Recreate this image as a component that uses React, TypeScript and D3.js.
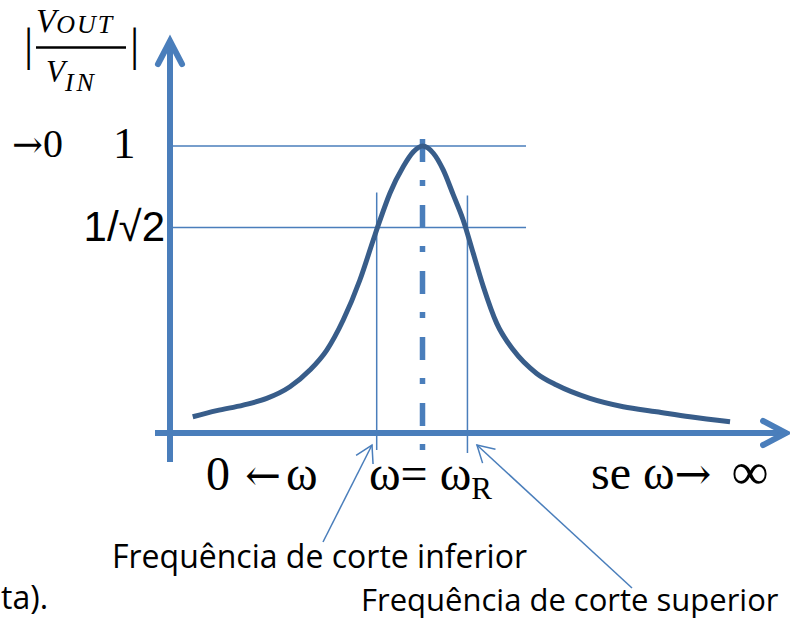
import React from "react";
import * as d3 from "d3";

// Normalised frequency (ω / ω_R) and magnitude |Vout/Vin| of the band-pass response
const OMEGA = [
  0.09, 0.185, 0.29, 0.383, 0.475, 0.554, 0.621, 0.686, 0.752, 0.805, 0.832, 0.871, 0.924,
  0.964, 1.0, 1.043, 1.082, 1.122, 1.161, 1.201, 1.241, 1.294, 1.36, 1.452, 1.531, 1.663,
  1.795, 1.927, 2.059, 2.218,
];
const GAIN = [
  0.026, 0.048, 0.068, 0.092, 0.134, 0.194, 0.266, 0.374, 0.518, 0.662, 0.734, 0.83, 0.926,
  0.979, 1.0, 0.974, 0.914, 0.824, 0.734, 0.614, 0.494, 0.362, 0.266, 0.182, 0.14, 0.092,
  0.062, 0.044, 0.026, 0.008,
];

// Reference levels on the magnitude axis
const LEVEL_VALUES = [1, Math.SQRT1_2];
// Resonance and the two cut-off frequencies
const RESONANCE = 1;
const CUTOFFS = [0.8186, 1.178];
const GUIDE_END = 1.41;
const AXIS_END = 2.44;

const AXIS_BLUE = "#4a7ebb";
const CURVE_BLUE = "#385d8a";
const SERIF = "'Liberation Serif', 'Times New Roman', serif";
const ARROWS = "'DejaVu Serif', serif";
const SANS = "'Open Sans', 'Noto Sans', sans-serif";

function chevron(tipX: number, tipY: number, towardX: number, towardY: number, len: number, half: number) {
  const a = Math.atan2(towardY - tipY, towardX - tipX);
  const p1 = [tipX + len * Math.cos(a - half), tipY + len * Math.sin(a - half)];
  const p2 = [tipX + len * Math.cos(a + half), tipY + len * Math.sin(a + half)];
  return `M${p1[0]},${p1[1]}L${tipX},${tipY}L${p2[0]},${p2[1]}`;
}

export default function App() {
  const width = 790;
  const height = 619;

  const x = d3.scaleLinear().domain([0, 1]).range([170, 422.5]);
  const y = d3.scaleLinear().domain([0, 1]).range([424, 146]);
  const axisY = 433;
  const x0 = x(0);

  const points: [number, number][] = OMEGA.map((w, i) => [w, GAIN[i]]);
  const line = d3
    .line<[number, number]>()
    .x((d) => x(d[0]))
    .y((d) => y(d[1]))
    .curve(d3.curveMonotoneX);

  const [wl, wh] = CUTOFFS;
  const halfPower = y(Math.SQRT1_2);

  // annotation arrows for the cut-off frequencies
  const lowTip = [x(wl) - 4.7, axisY + 12];
  const lowFrom = [323, 542];
  const highTip = [x(wh) + 9.5, axisY + 12];
  const highFrom = [632, 588];
  const head = 19;
  const half = Math.PI / 6;

  return (
    <svg
      width={width}
      height={height}
      style={{ position: "absolute", left: 0, top: 0, display: "block", background: "#fff" }}
    >
      {/* |Vout / Vin| */}
      <g fill="#000" fontFamily={SERIF}>
        <text x={24} y={60} fontSize={46}>|</text>
        <text x={130} y={60} fontSize={46}>|</text>
        <text x={36} y={32} fontSize={33} fontStyle="italic">
          V<tspan fontSize={26} dy={1} letterSpacing={2}>OUT</tspan>
        </text>
        <line x1={36} x2={126} y1={47.5} y2={47.5} stroke="#000" strokeWidth={2.7} />
        <text x={46} y={82} fontSize={31} fontStyle="italic">
          V<tspan fontSize={26} dy={9} letterSpacing={3}>IN</tspan>
        </text>
      </g>

      {/* level guides */}
      {LEVEL_VALUES.map((v, i) => (
        <line
          key={`lvl-${i}`}
          x1={x0}
          x2={x(GUIDE_END)}
          y1={y(v)}
          y2={y(v)}
          stroke={AXIS_BLUE}
          strokeWidth={1.5}
        />
      ))}

      {/* level labels */}
      <text x={12} y={y(1) + 11} fontFamily={SERIF} fontSize={40} fill="#000">
        <tspan fontFamily={ARROWS} fontSize={37}>→</tspan>0
      </text>
      <text x={113} y={y(1) + 12} fontFamily={SERIF} fontSize={45} fill="#000">1</text>
      <text
        x={165}
        y={halfPower + 14}
        textAnchor="end"
        fontFamily="'Liberation Sans', Arial, sans-serif"
        fontSize={42}
        fill="#000"
      >
        1/√2
      </text>

      {/* cut-off markers */}
      <line x1={x(wl)} x2={x(wl)} y1={halfPower - 35} y2={axisY + 17} stroke={AXIS_BLUE} strokeWidth={1.5} />
      <line x1={x(wh)} x2={x(wh)} y1={halfPower - 32} y2={axisY + 20} stroke={AXIS_BLUE} strokeWidth={1.5} />

      {/* resonance marker */}
      <line
        x1={x(RESONANCE)}
        x2={x(RESONANCE)}
        y1={y(1) - 7}
        y2={axisY + 19}
        stroke={AXIS_BLUE}
        strokeWidth={5.5}
        strokeDasharray="23 18 6 19"
      />

      {/* response curve */}
      <path d={line(points) ?? ""} fill="none" stroke={CURVE_BLUE} strokeWidth={5} strokeLinecap="butt" />

      {/* axes */}
      <g stroke={AXIS_BLUE} strokeWidth={6} fill="none">
        <line x1={x0} x2={x0} y1={462} y2={41} />
        <line x1={155} x2={x(AXIS_END) - 2} y1={axisY} y2={axisY} />
        <path
          d={chevron(x0, 41, x0, 100, 26, Math.atan2(12, 23))}
          strokeLinecap="round"
          strokeLinejoin="miter"
        />
        <path
          d={chevron(x(AXIS_END), axisY, 0, axisY, 26, Math.atan2(12, 23))}
          strokeLinecap="round"
          strokeLinejoin="miter"
        />
      </g>

      {/* frequency labels */}
      <g fontFamily={SERIF} fontSize={48} fill="#000">
        <text x={206} y={490}>
          0 <tspan dx={3} fontFamily={ARROWS} fontSize={43}>←</tspan>
          <tspan dx={5}>ω</tspan>
        </text>
        <text x={369} y={490}>
          ω= ω<tspan fontSize={31} dy={9}>R</tspan>
        </text>
        <text x={591} y={489}>
          se ω<tspan fontFamily={ARROWS} fontSize={44}>→</tspan>
          <tspan dx={20} fontSize={52}>∞</tspan>
        </text>
      </g>

      {/* cut-off annotations */}
      <g stroke={AXIS_BLUE} strokeWidth={1.5} fill="none">
        <line x1={lowFrom[0]} y1={lowFrom[1]} x2={lowTip[0]} y2={lowTip[1]} />
        <path d={chevron(lowTip[0], lowTip[1], lowFrom[0], lowFrom[1], head, half)} />
        <line x1={highFrom[0]} y1={highFrom[1]} x2={highTip[0]} y2={highTip[1]} />
        <path d={chevron(highTip[0], highTip[1], highFrom[0], highFrom[1], head, half)} />
      </g>

      <g fontFamily={SANS} fontSize={32} fill="#000">
        <text x={112} y={568}>Frequência de corte inferior</text>
        <text x={361} y={611} fontSize={31}>Frequência de corte superior</text>
        <text x={1} y={609}>ta).</text>
      </g>
    </svg>
  );
}
